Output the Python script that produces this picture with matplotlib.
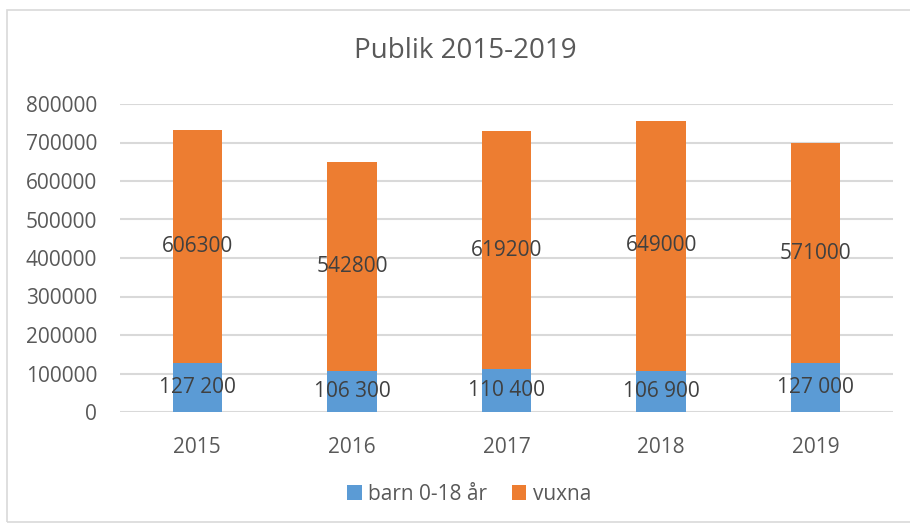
import matplotlib
matplotlib.use("Agg")
import matplotlib.pyplot as plt
from matplotlib import font_manager
from matplotlib.patches import Rectangle

years = ["2015", "2016", "2017", "2018", "2019"]
barn = [127200, 106300, 110400, 106900, 127000]
vuxna = [606300, 542800, 619200, 649000, 571000]
barn_labels = ["127 200", "106 300", "110 400", "106 900", "127 000"]
vuxna_labels = ["606300", "542800", "619200", "649000", "571000"]

names = {f.name for f in font_manager.fontManager.ttflist}
font = "Liberation Sans Narrow" if "Liberation Sans Narrow" in names else "Open Sans"
plt.rcParams["font.family"] = [font, "DejaVu Sans"]

blue = "#5B9BD5"
orange = "#ED7D31"
grey = "#595959"

fig = plt.figure(figsize=(9.1, 5.26), dpi=100)
# chart area border (right edge runs off the picture)
fig.patches.append(Rectangle((7 / 910, 4 / 526), 910 / 910, 512 / 526,
                             transform=fig.transFigure, fill=False,
                             edgecolor="#D9D9D9", linewidth=1.2))
ax = fig.add_axes([120 / 910, 1 - 412 / 526, 773 / 910, 308 / 526])

x = range(len(years))
ax.bar(x, barn, width=0.32, color=blue, zorder=3, label="barn 0-18 år")
ax.bar(x, vuxna, width=0.32, bottom=barn, color=orange, zorder=3, label="vuxna")

for i in x:
    ax.text(i, barn[i] / 2, barn_labels[i], ha="center", va="center",
            fontsize=15, color="#404040", zorder=4)
    ax.text(i, barn[i] + vuxna[i] / 2, vuxna_labels[i], ha="center", va="center",
            fontsize=15, color="#404040", zorder=4)

ax.set_xlim(-0.5, 4.5)
ax.set_ylim(0, 800000)
ax.set_yticks(range(0, 800001, 100000))
ax.set_yticklabels([str(v) for v in range(0, 800001, 100000)])
ax.set_xticks(list(x))
ax.set_xticklabels(years)
ax.tick_params(axis="both", length=0, labelsize=15, colors=grey)
ax.tick_params(axis="x", pad=18)
ax.tick_params(axis="y", pad=16.5)
ax.grid(axis="y", color="#D9D9D9", linewidth=1.5, zorder=0)
for s in ax.spines.values():
    s.set_visible(False)

fig.text(354 / 910, 1 - 51 / 526, "Publik 2015-2019", ha="left", va="center",
         fontsize=20, color=grey)

fig.legend(loc="center", bbox_to_anchor=(469 / 910, 1 - 494 / 526), ncol=2,
           frameon=False, fontsize=15, handlelength=0.7, handleheight=0.7,
           handletextpad=0.3, columnspacing=1.2, labelcolor=grey)

fig.savefig("out.png", dpi=100)
